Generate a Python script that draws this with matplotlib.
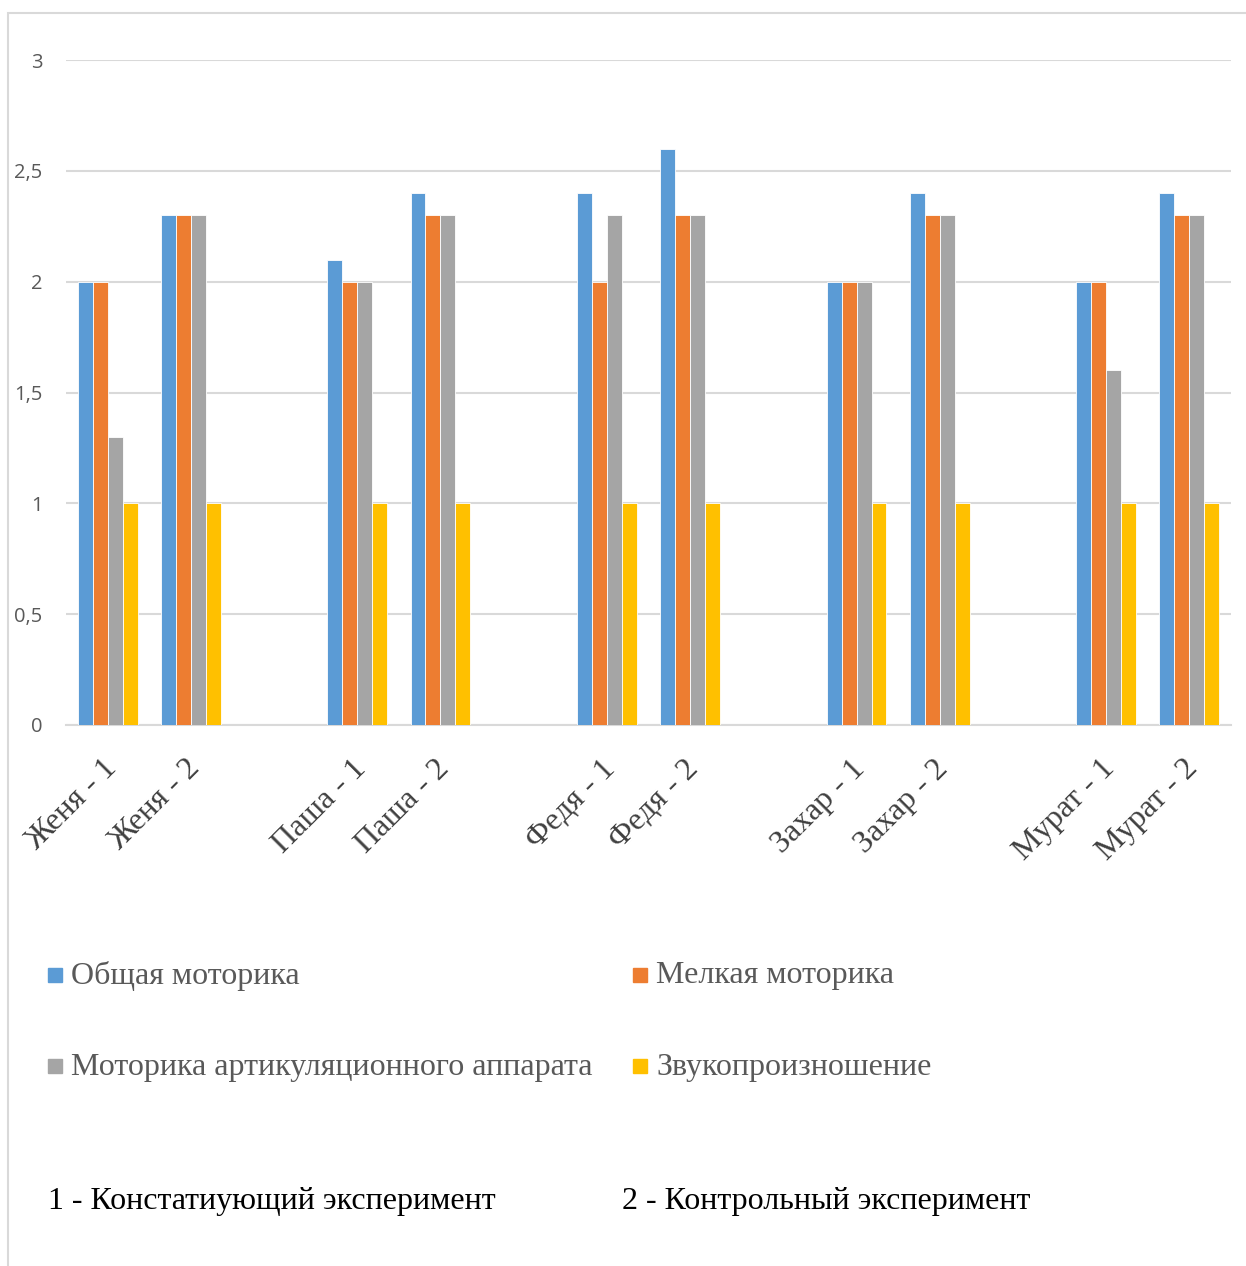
import matplotlib.pyplot as plt
import numpy as np
from matplotlib.patches import Rectangle

# categories (empty strings are the gaps between children)
labels = ['Женя - 1', 'Женя - 2', '', 'Паша - 1', 'Паша - 2', '',
          'Федя - 1', 'Федя - 2', '', 'Захар - 1', 'Захар - 2', '',
          'Мурат - 1', 'Мурат - 2']

series_names = ['Общая моторика', 'Мелкая моторика',
                'Моторика артикуляционного аппарата', 'Звукопроизношение']

obshaya = [2, 2.3, 0, 2.1, 2.4, 0, 2.4, 2.6, 0, 2, 2.4, 0, 2, 2.4]
melkaya = [2, 2.3, 0, 2, 2.3, 0, 2, 2.3, 0, 2, 2.3, 0, 2, 2.3]
artik = [1.3, 2.3, 0, 2, 2.3, 0, 2.3, 2.3, 0, 2, 2.3, 0, 1.6, 2.3]
zvuk = [1, 1, 0, 1, 1, 0, 1, 1, 0, 1, 1, 0, 1, 1]

yticks = [0, 0.5, 1, 1.5, 2, 2.5, 3]
ytick_labels = ['0', '0,5', '1', '1,5', '2', '2,5', '3']

colors = ['#5B9BD5', '#ED7D31', '#A5A5A5', '#FFC000']
serif = 'Liberation Serif'

fig = plt.figure(figsize=(12.46, 12.66), dpi=100)
ax = fig.add_axes([66/1246, 1-725/1266, (1231-66)/1246, (725-60)/1266])

x = np.arange(len(labels))
w = 0.18
all_series = [obshaya, melkaya, artik, zvuk]
for i, vals in enumerate(all_series):
    ax.bar(x + (i - 1.5)*w, vals, w, color=colors[i], edgecolor='white',
           linewidth=0.6, zorder=3, label=series_names[i])

ax.set_xlim(-0.5, len(labels)-0.5)
ax.set_ylim(0, 3)
ax.set_yticks(yticks)
ax.set_yticklabels(ytick_labels, fontfamily='Open Sans', fontsize=14.5, color='#595959')
# ticks are hidden; offset a bit so the rotated labels end where Excel puts them
ax.set_xticks(x - 0.07)
ax.set_xticklabels(labels, rotation=45, ha='right', rotation_mode='anchor',
                   fontfamily=serif, fontsize=23, color='#404040')
ax.tick_params(axis='both', length=0)
ax.tick_params(axis='y', pad=17)
ax.tick_params(axis='x', pad=21)
ax.grid(axis='y', color='#D9D9D9', linewidth=1.5, zorder=0)
for s in ['top', 'right', 'left']:
    ax.spines[s].set_visible(False)
ax.spines['bottom'].set_color('#D9D9D9')
ax.spines['bottom'].set_linewidth(1.5)

# legend drawn by hand in two columns
leg_pos = [(48, 975), (633, 975), (48, 1066), (633, 1066)]
for (px, py), name, c in zip(leg_pos, series_names, colors):
    fig.patches.append(Rectangle((px/1246, 1-(py+7)/1266), 14/1246, 14/1266,
                                 transform=fig.transFigure, color=c))
    fig.text((px+23)/1246, 1-(py+1)/1266, name, fontfamily=serif, fontsize=23,
             color='#595959', va='center', ha='left')

fig.text(48/1246, 1-1202/1266, '1 - Констатиующий эксперимент', fontfamily=serif,
         fontsize=23, color='black', va='center', ha='left')
fig.text(622/1246, 1-1202/1266, '2 - Контрольный эксперимент', fontfamily=serif,
         fontsize=23, color='black', va='center', ha='left')

# chart frame
fig.patches.append(Rectangle((8/1246, -0.01), 1.2, 1-13/1266+0.01, transform=fig.transFigure,
                             fill=False, edgecolor='#D9D9D9', linewidth=1.5))

fig.savefig('out.png', dpi=100)
